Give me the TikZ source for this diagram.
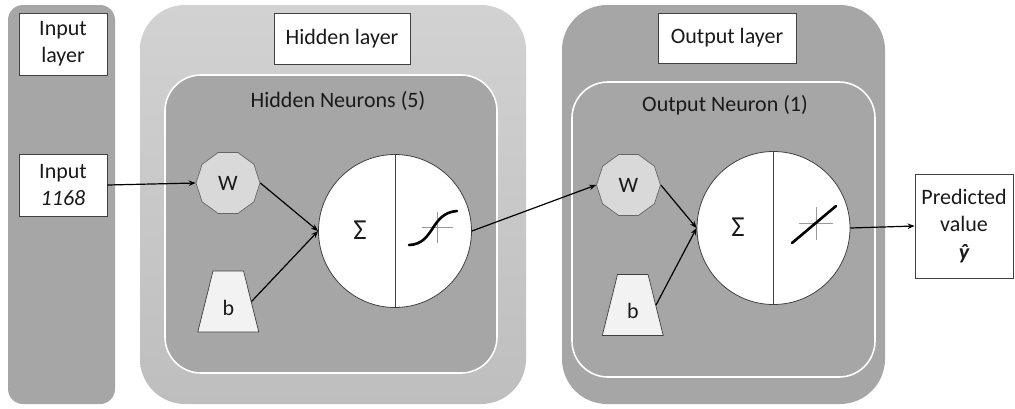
\documentclass[tikz,border=0pt]{standalone}
\usepackage{fontspec}
\setmainfont{Carlito}
\usetikzlibrary{shapes.geometric,arrows.meta}
\definecolor{panel}{HTML}{A6A6A6}
\definecolor{outerlight}{HTML}{D2D2D2}
\definecolor{outerlightb}{HTML}{BEBEBE}
\definecolor{edgec}{HTML}{404040}
\definecolor{txt}{HTML}{1A1A1A}
\tikzset{
  lbl/.style={draw=edgec, line width=0.8pt, fill=white, text=txt, align=center, inner sep=0pt},
  wnode/.style={regular polygon, regular polygon sides=10, minimum size=64pt, draw=edgec!80, line width=0.7pt, fill=black!15, text=txt, inner sep=0pt},
  bnode/.style={trapezium, trapezium left angle=76, trapezium right angle=76, inner xsep=9.5pt, inner ysep=0pt, text height=44pt, text depth=17pt, draw=edgec, line width=0.7pt, fill=black!5, text=txt},
  neuron/.style={circle, minimum size=153pt, draw=edgec, line width=0.8pt, fill=white, inner sep=0pt},
  conn/.style={line width=1.2pt, draw=black, -{Stealth[length=7pt,width=5.5pt]}},
  crossl/.style={draw=black!40, line width=0.8pt},
  fnl/.style={line width=2.6pt, draw=black, line cap=round},
  sig/.style={text=txt, font=\fontsize{29}{30}\selectfont},
}
\begin{document}
\begin{tikzpicture}[x=1pt,y=-1pt, font=\fontsize{22}{27}\selectfont]
\useasboundingbox (0,0) rectangle (1015,408);
\fill[white] (0,0) rectangle (1015,408);
% panels
\fill[panel, rounded corners=15pt] (8,5) rectangle (115,404);
\shade[top color=outerlight, bottom color=outerlightb, rounded corners=45pt] (140,5) rectangle (526,404);
\filldraw[fill=panel, draw=white, line width=1.6pt, rounded corners=36pt] (165,75) rectangle (497,373);
\fill[panel, rounded corners=45pt] (562,5) rectangle (885,404);
\filldraw[fill=panel, draw=white, line width=1.6pt, rounded corners=36pt] (572,82) rectangle (875,377);
% labels
\node[lbl, minimum width=88pt, minimum height=62pt] (inlayer) at (63,44) {Input\\layer};
\node[lbl, minimum width=88pt, minimum height=62pt] (input) at (63,185) {Input\\\itshape 1168};
\node[lbl, minimum width=136pt, minimum height=51pt] (hidlayer) at (342,38.5) {Hidden layer};
\node[lbl, minimum width=138pt, minimum height=50pt] (outlayer) at (727,38) {Output layer};
\node[text=txt] (hidtitle) at (338,101) {Hidden Neurons (5)};
\node[text=txt] (outtitle) at (725,105) {Output Neuron (1)};
% hidden neuron
\node[wnode] (w1) at (228,183) {W};
\node[bnode, anchor=text] (b1) at (222.5,315) {b};
\node[neuron] (n1) at (395,231) {};
\draw[edgec, line width=0.8pt] (n1.north) -- (n1.south);
\node[sig] (s1) at (360,230) {Σ};
\draw[crossl] (422,227) -- (453,227);
\draw[crossl] (437,212) -- (437,243);
\draw[fnl] (409,245) .. controls (435,244) and (430,213) .. (457,211);
% output neuron
\node[wnode] (w2) at (628.5,185) {W};
\node[bnode, anchor=text] (b2) at (627,318.5) {b};
\node[neuron] (n2) at (773.5,228) {};
\draw[edgec, line width=0.8pt] (n2.north) -- (n2.south);
\node[sig] (s2) at (738,227) {Σ};
\draw[crossl] (799,223) -- (833,223);
\draw[crossl] (816,207) -- (816,240);
\draw[fnl] (792,243) -- (836,206);
% predicted
\node[lbl, minimum width=98pt, minimum height=104pt] (pred) at (964,226) {Predicted\\value\\[1pt]{\bfseries\itshape ŷ}};
% connectors
\draw[conn] (input.east) -- (w1.west);
\draw[conn] (w1.east) -- (n1.west);
\draw[conn] (b1.east) -- (n1.west);
\draw[conn] (n1.east) -- (w2.west);
\draw[conn] (w2.east) -- (n2.west);
\draw[conn] (b2.east) -- (n2.west);
\draw[conn] (n2.east) -- (pred.west);
\end{tikzpicture}
\end{document}
